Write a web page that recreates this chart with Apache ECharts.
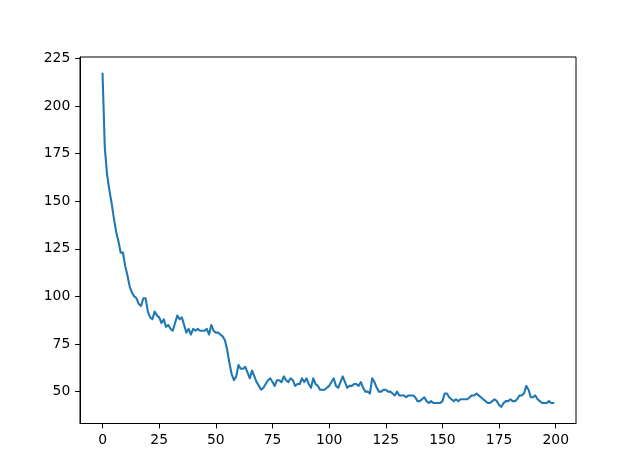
<!DOCTYPE html>
<html><head><meta charset="utf-8">
<script src="https://cdn.jsdelivr.net/npm/echarts@6/dist/echarts.min.js"></script>
<style>html,body{margin:0;padding:0;background:#fff}#c{width:640px;height:476px}</style>
</head><body><div id="c"></div>
<script>
const values = [
217,178,164,156,149,141,134,129,123,123,
116,111,105,102,100,99,96,95,99,99,
92,89,88,92,90,89,86,88,84,85,
83,82,86,90,88,89,85,81,83,80,
83,82,83,82,82,82,83,80,85,82,
81,81,80,79,77,72,65,59,56,58,
64,62,62,63,60,57,61,58,55,53,
51,52,54,56,57,55,53,56,56,55,
58,56,55,57,56,53,54,54,57,55,
57,54,52,57,54,53,51,51,51,52,
53,55,57,53,52,55,58,55,52,53,
53,54,54,53,55,52,50,50,49,57,
55,52,50,50,51,51,50,50,49,48,
50,48,48,48,47,48,48,48,47,45,
45,46,47,45,44,45,44,44,44,44,
45,49,49,47,46,45,46,45,46,46,
46,46,47,48,48,49,48,47,46,45,
44,44,45,46,45,43,42,44,45,45,
46,45,45,46,48,48,49,53,51,47,
47,48,46,45,44,44,44,45,44,44
];
const xTicks = [0,25,50,75,100,125,150,175,200];
const yTicks = [50,75,100,125,150,175,200,225];

const data = values.map((v,i)=>[i,v]);
const chart = echarts.init(document.getElementById('c'));
const font = {fontFamily:'DejaVu Sans', fontSize:13.9, color:'#000'};
chart.setOption({
  animation:false,
  grid:{left:80,right:64,top:57,bottom:52.5,show:true,borderColor:'#000',borderWidth:1,backgroundColor:'transparent'},
  xAxis:{type:'value',min:-9.95,max:208.95,
    axisLine:{show:true,onZero:false,lineStyle:{color:'#000',width:1}},
    axisTick:{show:true,inside:false,length:4.9,lineStyle:{color:'#000',width:1},customValues:xTicks},
    axisLabel:Object.assign({margin:9.7,customValues:xTicks,showMinLabel:true,showMaxLabel:true},font),
    splitLine:{show:false}},
  yAxis:{type:'value',min:33.25,max:225.75,
    axisLine:{show:true,onZero:false,lineStyle:{color:'#000',width:1}},
    axisTick:{show:true,inside:false,length:4.9,lineStyle:{color:'#000',width:1},customValues:yTicks},
    axisLabel:Object.assign({margin:9.7,customValues:yTicks},font),
    splitLine:{show:false}},
  series:[{type:'line',data:data,showSymbol:false,symbol:'none',
    lineStyle:{color:'#1f77b4',width:2.08,join:'round',cap:'round'}}]
});
</script></body></html>
